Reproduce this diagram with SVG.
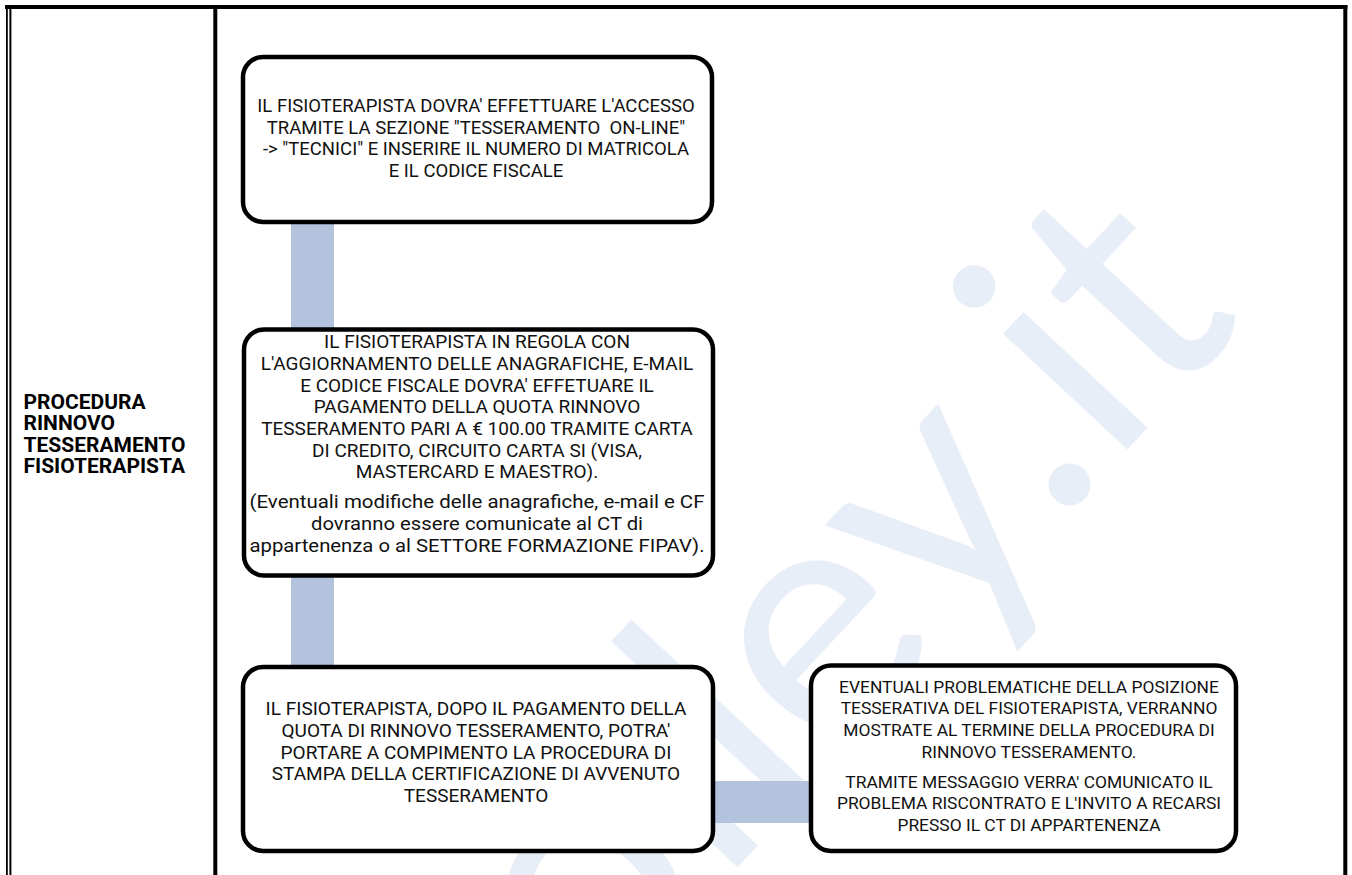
<svg xmlns="http://www.w3.org/2000/svg" width="1352" height="875" viewBox="0 0 1352 875">
<style>
.bg{fill:#ffffff}
.rule{fill:#000000}
.wm{font-family:Lato,"Open Sans",sans-serif;font-size:335px;fill:#e8eef7}
.conn{fill:#b3c3de}
.box{fill:#ffffff;stroke:#000000;stroke-width:4.5}
.t{font-family:Roboto,"Liberation Sans",sans-serif;fill:#111111;text-anchor:middle}
.b1{font-size:18.5px}
.b2{font-size:19px}
.b3{font-size:19px}
.b4{font-size:17.4px}
.lbl{font-family:Roboto,"Liberation Sans",sans-serif;font-weight:bold;font-size:21px;fill:#000000}
</style>
<rect class="bg" x="0" y="0" width="1352" height="875"/>
<g id="watermark" transform="translate(1110,468) rotate(-47)">
<text class="wm" x="0" y="0" text-anchor="end">volley.</text>
<text class="wm" x="0" y="0">it</text>
</g>
<g id="table">
<rect class="rule" x="5" y="5" width="1342.5" height="4"/>
<rect class="rule" x="6" y="5" width="1.8" height="870"/>
<rect class="rule" x="9.4" y="9" width="2" height="866"/>
<rect class="rule" x="213.3" y="5" width="4" height="870"/>
<rect class="rule" x="1343.3" y="5" width="4" height="870"/>
</g>
<g id="label">
<text class="lbl" x="23.5" y="408.5">PROCEDURA</text>
<text class="lbl" x="23.5" y="430">RINNOVO</text>
<text class="lbl" x="23.5" y="451.5">TESSERAMENTO</text>
<text class="lbl" x="23.5" y="473">FISIOTERAPISTA</text>
</g>
<g id="connectors">
<rect class="conn" x="291" y="220" width="43" height="450"/>
<rect class="conn" x="711" y="781" width="102" height="42"/>
</g>
<g id="node1">
<rect class="box" x="243" y="57" width="469" height="165" rx="20"/>
<text class="t b1" x="476" y="112">IL FISIOTERAPISTA DOVRA' EFFETTUARE L'ACCESSO</text>
<text class="t b1" x="476" y="133.5" xml:space="preserve">TRAMITE LA SEZIONE "TESSERAMENTO  ON-LINE"</text>
<text class="t b1" x="476" y="155">-&gt; "TECNICI" E INSERIRE IL NUMERO DI MATRICOLA</text>
<text class="t b1" x="476" y="176.5">E IL CODICE FISCALE</text>
</g>
<g id="node2">
<rect class="box" x="244" y="329.5" width="469" height="246" rx="20"/>
<text class="t b2" x="477" y="348.4">IL FISIOTERAPISTA IN REGOLA CON</text>
<text class="t b2" x="477" y="370">L'AGGIORNAMENTO DELLE ANAGRAFICHE, E-MAIL</text>
<text class="t b2" x="477" y="391.7">E CODICE FISCALE DOVRA' EFFETUARE IL</text>
<text class="t b2" x="477" y="413.4">PAGAMENTO DELLA QUOTA RINNOVO</text>
<text class="t b2" x="477" y="435">TESSERAMENTO PARI A € 100.00 TRAMITE CARTA</text>
<text class="t b2" x="477" y="456.7">DI CREDITO, CIRCUITO CARTA SI (VISA,</text>
<text class="t b2" x="477" y="478.4">MASTERCARD E MAESTRO).</text>
<text class="t b2" x="477" y="508.4" textLength="455" lengthAdjust="spacingAndGlyphs">(Eventuali modifiche delle anagrafiche, e-mail e CF</text>
<text class="t b2" x="477" y="530" textLength="332" lengthAdjust="spacingAndGlyphs">dovranno essere comunicate al CT di</text>
<text class="t b2" x="477" y="551.6" textLength="455" lengthAdjust="spacingAndGlyphs">appartenenza o al SETTORE FORMAZIONE FIPAV).</text>
</g>
<g id="node3">
<rect class="box" x="243" y="667" width="470" height="184" rx="20"/>
<text class="t b3" x="476" y="715">IL FISIOTERAPISTA, DOPO IL PAGAMENTO DELLA</text>
<text class="t b3" x="476" y="737">QUOTA DI RINNOVO TESSERAMENTO, POTRA'</text>
<text class="t b3" x="476" y="758.7">PORTARE A COMPIMENTO LA PROCEDURA DI</text>
<text class="t b3" x="476" y="780">STAMPA DELLA CERTIFICAZIONE DI AVVENUTO</text>
<text class="t b3" x="476" y="802">TESSERAMENTO</text>
</g>
<g id="node4">
<rect class="box" x="811" y="665.5" width="425" height="185.5" rx="20"/>
<text class="t b4" x="1029" y="692.9">EVENTUALI PROBLEMATICHE DELLA POSIZIONE</text>
<text class="t b4" x="1029" y="714.2">TESSERATIVA DEL FISIOTERAPISTA, VERRANNO</text>
<text class="t b4" x="1029" y="736.2">MOSTRATE AL TERMINE DELLA PROCEDURA DI</text>
<text class="t b4" x="1029" y="757.9">RINNOVO TESSERAMENTO.</text>
<text class="t b4" x="1029" y="787.9">TRAMITE MESSAGGIO VERRA' COMUNICATO IL</text>
<text class="t b4" x="1029" y="809.2">PROBLEMA RISCONTRATO E L'INVITO A RECARSI</text>
<text class="t b4" x="1029" y="831.2">PRESSO IL CT DI APPARTENENZA</text>
</g>
</svg>
